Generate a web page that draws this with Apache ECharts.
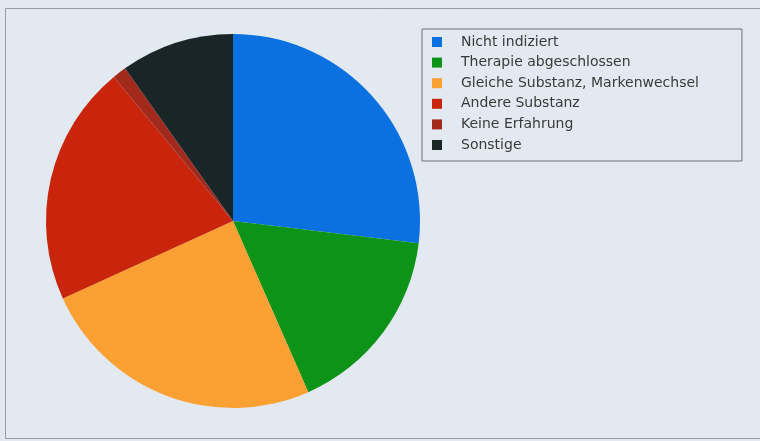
<!DOCTYPE html>
<html>
<head>
<meta charset="utf-8">
<script src="https://cdn.jsdelivr.net/npm/echarts@6/dist/echarts.min.js"></script>
<style>
html,body{margin:0;padding:0;background:#e3e9f0;}
#chart{width:760px;height:441px;}
</style>
</head>
<body>
<div id="chart"></div>
<script>
var categories = ["Nicht indiziert", "Therapie abgeschlossen", "Gleiche Substanz, Markenwechsel", "Andere Substanz", "Keine Erfahrung", "Sonstige"];
var values = [26.9, 16.5, 24.8, 20.8, 1.2, 9.8];
var colors = ["#0c71e0", "#0d9418", "#fba033", "#c8250c", "#a22a1c", "#1a2528"];

var chart = echarts.init(document.getElementById('chart'), null, {renderer: 'canvas'});
var data = categories.map(function (c, i) {
  return {name: c, value: values[i], itemStyle: {color: colors[i]}};
});
chart.setOption({
  backgroundColor: '#e3e9f0',
  animation: false,
  graphic: [{
    type: 'rect',
    shape: {x: 5.5, y: 8.5, width: 800, height: 430},
    style: {fill: 'none', stroke: '#9a9ea4', lineWidth: 1},
    silent: true
  }],
  legend: {
    orient: 'vertical',
    left: 422,
    top: 29,
    padding: [6, 43, 9, 10],
    backgroundColor: 'rgba(0,0,0,0)',
    borderColor: '#6c7076',
    borderWidth: 1,
    itemWidth: 10,
    itemHeight: 10,
    itemGap: 6.6,
    icon: 'rect',
    selectedMode: false,
    textStyle: {
      fontFamily: 'DejaVu Sans',
      fontSize: 14,
      lineHeight: 14,
      color: '#3a3a3a',
      padding: [0, 0, 0, 14]
    },
    data: categories
  },
  series: [{
    type: 'pie',
    center: [233, 221],
    radius: [0, 187],
    startAngle: 90,
    clockwise: true,
    label: {show: false},
    labelLine: {show: false},
    emphasis: {disabled: true},
    itemStyle: {borderWidth: 0},
    data: data
  }]
});
</script>
</body>
</html>
